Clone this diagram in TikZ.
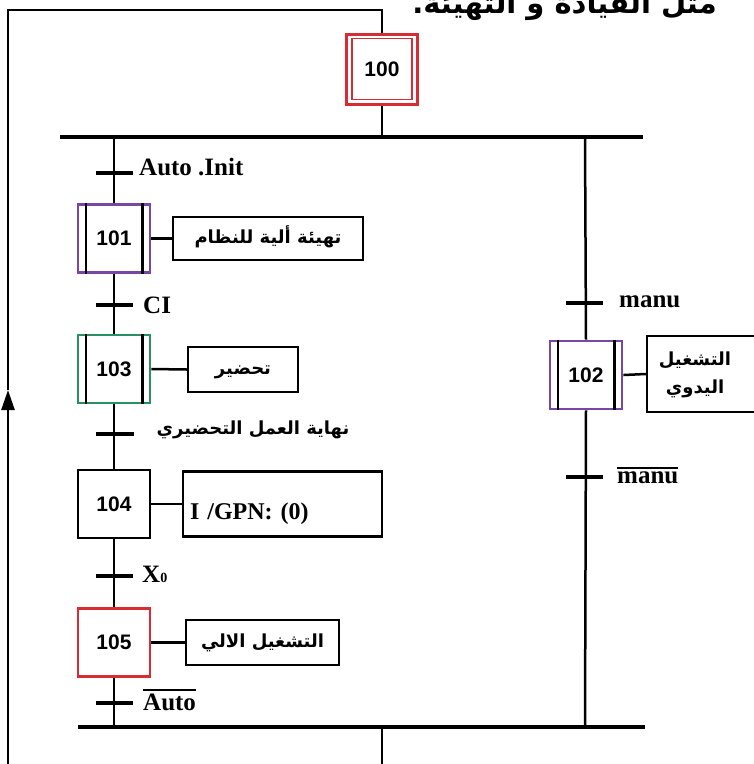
\documentclass[tikz,border=0pt]{standalone}
\usepackage{fontspec}
\setmainfont{Liberation Serif}
\newfontfamily\numfont{Liberation Sans}
\newfontfamily\arabicfont[Script=Arabic]{DejaVu Sans}
\TeXXeTstate=1
\usetikzlibrary{arrows.meta,calc}
\definecolor{stepred}{RGB}{215,45,50}
\definecolor{steppurple}{RGB}{120,70,165}
\definecolor{stepgreen}{RGB}{40,145,100}
\newcommand\ovl[1]{\vbox{\hrule height 1.8pt\kern 2.5pt\hbox{#1}}}
\newcommand\arb[1]{\arabicfont\bfseries\beginR #1\endR}
\begin{document}
\begin{tikzpicture}[x=1pt,y=-1pt,
 stepbox/.style={draw, line width=2.8pt, inner sep=0pt, minimum width=72pt, minimum height=68pt, font=\numfont\bfseries\fontsize{21}{21}\selectfont},
 actbox/.style={draw, line width=2.2pt, inner sep=0pt, text height=14pt, text depth=4pt, font=\arabicfont\bfseries\fontsize{18}{18}\selectfont},
 wire/.style={line width=2.5pt},
 bar/.style={line width=3.6pt},
 tick/.style={line width=3.2pt},
 tlabel/.style={anchor=base west, inner sep=0pt, font=\bfseries\fontsize{25}{25}\selectfont},
 innerline/.style={line width=2.2pt}
]
\useasboundingbox (0,0) rectangle (754,764);

% coordinates
\coordinate (topL) at (8,10);
\coordinate (topR) at (382,10);
\coordinate (arrowtip) at (8,390);
\coordinate (loopB) at (8,764);
\coordinate (bar1L) at (60,137);
\coordinate (bar1R) at (643,137);
\coordinate (b1a) at (114,137);
\coordinate (b1b) at (585,137);
\coordinate (b1c) at (382,137);
\coordinate (bar2L) at (78,727);
\coordinate (bar2R) at (645,727);
\coordinate (b2a) at (114,727);
\coordinate (b2b) at (585,727);
\coordinate (b2c) at (382,727);
\coordinate (exitB) at (382,764);

% top text (cut by the page edge, as in the reference)
\node[anchor=base east, inner sep=0pt] (toptext) at (717,13) {\arb{\fontsize{29}{29}\selectfont مثل القيادة و التهيئة.}};

% steps
\node[stepbox, draw=stepred, line width=3pt, minimum width=71pt, minimum height=70pt] (s100) at (382,69) {100};
\draw[stepred, line width=1.8pt] ($(s100.north west)+(7,6)$) rectangle ($(s100.south east)+(-7,-6)$);
\node[stepbox, draw=steppurple] (s101) at (114,238.5) {101};
\node[stepbox, draw=stepgreen] (s103) at (114,369) {103};
\node[stepbox, draw=black] (s104) at (114,504) {104};
\node[stepbox, draw=stepred] (s105) at (114,642.5) {105};
\node[stepbox, draw=steppurple] (s102) at (586,375) {102};
\foreach \s in {s101,s103,s102}{
  \draw[innerline] ($(\s.north west)+(9,0)$) -- ($(\s.south west)+(9,0)$);
  \draw[innerline] ($(\s.north east)+(-9,0)$) -- ($(\s.south east)+(-9,0)$);
}

% actions
\node[actbox, minimum width=190pt, minimum height=43pt] (a101) at (268,238.5) {\arb{تهيئة ألية للنظام}};
\node[actbox, minimum width=110pt, minimum height=45pt] (a103) at (243,369.5) {\arb{تحضير}};
\node[actbox, minimum width=199pt, minimum height=65pt, font=\bfseries\fontsize{24}{24}\selectfont, text height=30pt, text depth=0pt, text width=185pt, align=left] (a104) at (282.5,504) {I /GPN: (0)};
\node[actbox, minimum width=153pt, minimum height=45pt] (a105) at (262.5,642.5) {\arb{التشغيل الالي}};
\node[actbox, minimum width=112pt, minimum height=76pt, text height=, text depth=] (a102) at (703,374) {\fontsize{18}{28}\selectfont\begin{tabular}{@{}c@{\hspace{16pt}}}\arb{التشغيل}\\\arb{اليدوي}\end{tabular}};

% action links
\draw[wire] (s101.east) -- (a101.west);
\draw[wire] (s103.east) -- (a103.west);
\draw[wire] (s104.east) -- (a104.west);
\draw[wire] (s105.east) -- (a105.west);
\draw[wire] (s102.east) -- (a102.west);

% loop and bars
\draw[wire, -{Triangle[length=20pt,width=13pt]}] (loopB) -- (arrowtip);
\draw[wire] (arrowtip) -- (topL) -- (topR) -- (s100.north);
\draw[wire] (s100.south) -- (b1c);
\draw[bar] (bar1L) -- (bar1R);
\draw[bar] (bar2L) -- (bar2R);
\draw[wire] (b2c) -- (exitB);

% left branch
\draw[wire] (b1a) -- (s101.north);
\draw[wire] (s101.south) -- (s103.north);
\draw[wire] (s103.south) -- (s104.north);
\draw[wire] (s104.south) -- (s105.north);
\draw[wire] (s105.south) -- (b2a);
% right branch
\draw[wire] (b1b) -- (s102.north);
\draw[wire] (s102.south) -- (b2b);

% transitions
\draw[tick] (96,173) -- (133,173);
\node[tlabel] (t1) at (139,175) {Auto .Init};
\draw[tick] (96,305) -- (133,305);
\node[tlabel] (t2) at (143,313) {CI};
\draw[tick] (96,434) -- (134,434);
\node[inner sep=0pt, font=\arabicfont\bfseries\fontsize{18}{18}\selectfont] (t3) at (253,430) {\arb{نهاية العمل التحضيري}};
\draw[tick] (96,576) -- (133,576);
\node[tlabel] (t4) at (142,582) {X{\fontsize{14}{14}\selectfont 0}};
\draw[tick] (96,703) -- (133,703);
\node[tlabel] (t5) at (143,710) {\ovl{Auto}};
\draw[tick] (566,303) -- (603,303);
\node[tlabel] (t6) at (619,307) {manu};
\draw[tick] (566,477) -- (603,477);
\node[tlabel] (t7) at (617,483) {\ovl{manu}};
\end{tikzpicture}
\end{document}
